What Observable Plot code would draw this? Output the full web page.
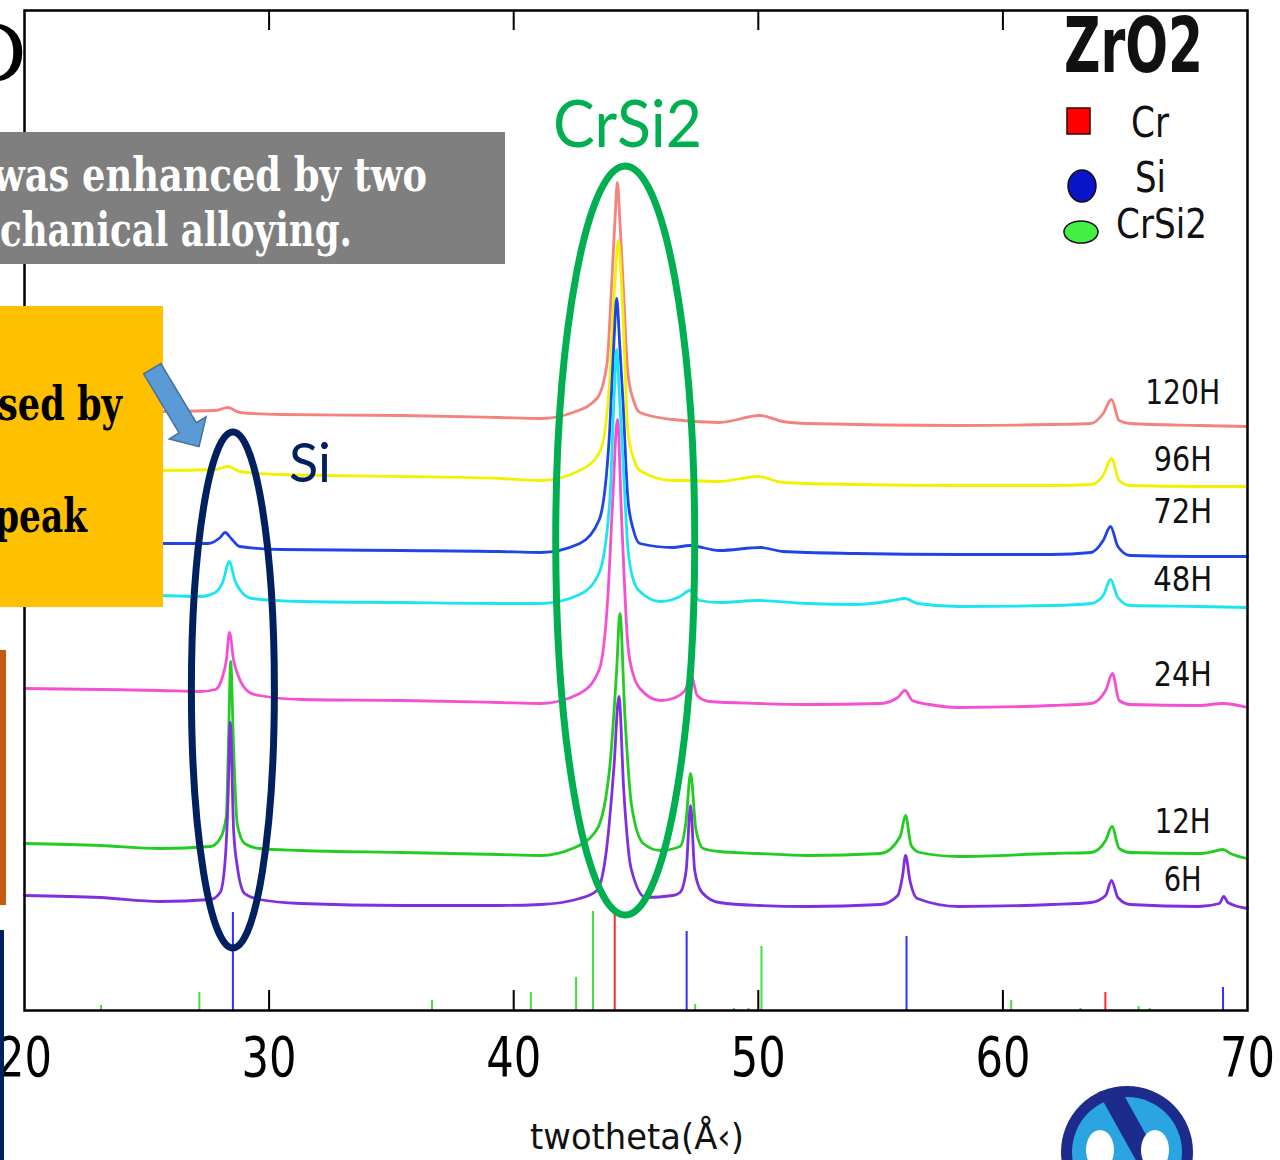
<!DOCTYPE html>
<html><head><meta charset="utf-8">
<script src="https://cdn.jsdelivr.net/npm/d3@7"></script>
<script src="https://cdn.jsdelivr.net/npm/@observablehq/plot@0.6"></script>
<style>
html,body{margin:0;padding:0;background:#fff;overflow:hidden}
#chart{position:relative;width:1280px;height:1160px}
</style>
</head><body><div id="chart"></div>
<script>
// ---------------- DATA ----------------
const seriesNames  = ["120H","96H","72H","48H","24H","12H","6H"];
const seriesColors = ["#f4837d","#f2f200","#1f45e6","#19e6f0","#f550d2","#22cc22","#7f2fe0"];

// [2theta, intensity (arb. units, offset-stacked)]
const s120H = [[20.0,599],[25.55,599],[27.8,600],[28.32,603],[28.8,598],[30.5,596],[35.4,595],[39.4,593],[41.1,592],[42.42,598],[43.4,612],[43.81,646],[44.01,729],[44.14,790],[44.24,828],[44.34,790],[44.47,729],[44.67,637],[44.9,610],[45.16,598],[46.5,591],[48.4,588],[50.07,595],[51.0,589],[52.0,587],[58.2,585],[62.0,586],[63.6,587],[64.1,597],[64.44,611],[64.75,590],[65.2,587],[68.0,585],[70.0,584]];
const s96H  = [[20.0,540],[25.55,540],[27.8,541],[28.32,544],[28.8,539],[30.5,536],[35.4,534],[39.4,532],[41.1,530],[42.7,540],[43.53,559],[43.93,632],[44.14,729],[44.28,770],[44.45,705],[44.67,579],[44.9,552],[45.16,540],[46.5,530],[47.0,530],[48.4,529],[50.0,534],[51.0,528],[54.0,526],[58.2,525],[62.0,525],[63.6,526],[64.1,535],[64.44,552],[64.75,530],[65.2,525],[68.0,524],[70.0,524]];
const s72H  = [[20.0,467],[25.55,467],[27.5,467],[28.0,473],[28.2,478],[28.45,472],[28.8,464],[30.5,461],[35.4,460],[39.4,459],[41.1,458],[42.7,467],[43.5,491],[43.93,583],[44.1,670],[44.21,712],[44.33,668],[44.47,608],[44.67,511],[44.9,480],[45.16,467],[46.5,463],[47.2,465],[48.4,460],[50.1,463],[51.0,459],[54.0,457],[58.2,456],[62.0,456],[63.6,458],[64.1,470],[64.4,484],[64.7,464],[65.2,455],[68.0,454],[70.0,454]];
const s48H  = [[20.0,416],[25.55,415],[27.2,414],[27.8,418],[28.1,428],[28.38,449],[28.6,430],[28.8,421],[29.3,412],[31.3,409],[35.4,408],[39.4,407],[41.1,407],[42.7,416],[43.5,438],[43.93,511],[44.1,610],[44.21,661],[44.32,615],[44.45,559],[44.67,462],[44.9,430],[45.16,419],[46.0,409],[46.8,414],[47.2,420],[47.6,410],[48.4,408],[50.0,410],[52.0,407],[54.0,406],[55.5,410],[56.0,412],[56.5,407],[58.2,404],[62.0,405],[63.6,407],[64.1,415],[64.4,431],[64.7,413],[65.2,405],[68.0,404],[70.0,403]];
const s24H  = [[20.0,322],[23.1,321],[25.55,320],[27.2,319],[27.8,321],[28.1,334],[28.25,350],[28.38,378],[28.55,350],[28.75,334],[29.2,318],[29.6,315],[31.3,311],[35.4,310],[39.4,308],[41.1,307],[42.7,317],[43.5,341],[43.85,414],[44.05,511],[44.24,591],[44.42,487],[44.67,365],[44.9,335],[45.16,322],[46.0,310],[46.5,312],[47.0,320],[47.26,335],[47.5,315],[48.0,309],[50.0,307],[52.0,306],[55.0,307],[55.7,313],[56.0,320],[56.3,310],[57.0,306],[58.2,303],[62.0,305],[63.6,307],[64.2,320],[64.48,337],[64.75,310],[65.2,306],[68.0,305],[69.0,307],[70.0,303]];
const s12H  = [[20.0,167],[23.1,165],[25.55,162],[27.6,164],[28.0,172],[28.25,194],[28.35,279],[28.43,349],[28.55,260],[28.7,186],[29.0,167],[29.6,162],[31.3,160],[35.4,158],[39.4,156],[41.1,155],[42.4,162],[43.4,181],[43.93,244],[44.21,341],[44.34,397],[44.55,293],[44.82,205],[45.3,167],[46.0,160],[46.8,164],[47.05,190],[47.23,237],[47.45,181],[47.75,162],[48.4,159],[50.0,157],[52.0,155],[55.0,157],[55.8,174],[56.02,195],[56.25,165],[56.6,158],[58.2,154],[62.0,157],[63.6,158],[64.2,170],[64.46,184],[64.75,162],[65.2,158],[68.0,157],[68.6,159],[69.0,161],[69.3,157],[70.0,152]];
const s6H   = [[20.0,115],[23.1,113],[25.55,109],[27.6,111],[28.0,118],[28.2,149],[28.32,210],[28.41,288],[28.55,180],[28.7,144],[29.0,117],[29.6,111],[31.3,107],[35.4,105],[39.4,105],[41.1,106],[42.7,112],[43.4,120],[43.8,162],[44.1,244],[44.3,314],[44.5,220],[44.8,142],[45.4,113],[46.5,115],[46.8,118],[47.05,140],[47.23,205],[47.4,140],[47.7,118],[48.4,108],[50.0,105],[52.0,104],[55.0,106],[55.7,115],[55.9,135],[56.02,155],[56.2,130],[56.5,112],[58.2,104],[62.0,106],[63.6,108],[64.2,115],[64.44,130],[64.7,113],[65.2,106],[68.0,104],[68.85,107],[69.03,114],[69.2,108],[70.0,102]];
const seriesValues = [s120H, s96H, s72H, s48H, s24H, s12H, s6H];

// reference (stick) patterns
const phaseNames  = ["Cr","Si","CrSi2"];
const phaseColors = ["#ff2a2a","#2f2fff","#3fe03f"];
const crSi2Positions = [23.13,27.15,36.66,40.70,42.55,43.24,47.42,49.00,49.60,50.13,60.34,63.17,65.55,66.00];
const crSi2Heights   = [5,18,10,18,33,99,6,2,2,64,10,2,4,2];
const siPositions    = [28.52,47.07,56.06,69.00];
const siHeights      = [98,79,74,23];
const crPositions    = [44.13,64.19];
const crHeights      = [100,18];

const tickValues = [20,30,40,50,60,70];
const innerTicks = [30,40,50,60];
const xLabel = "twotheta(Å‹)";

// ---------------- LAYOUT ----------------
const labelLevel = {"120H":617,"96H":550,"72H":498,"48H":430,"24H":335,"12H":188,"6H":130};
const labelWidth = {"120H":75,"96H":58,"72H":59,"48H":59,"24H":58,"12H":56,"6H":38};

const rows = seriesNames.flatMap((name, i) =>
  seriesValues[i].map(([t, v]) => ({series: name, theta: t, intensity: v})));
const sticks = (pos, h) => pos.map((p, i) => ({theta: p, height: h[i]}));

const plot = Plot.plot({
  width: 1280, height: 1160,
  marginLeft: 24, marginRight: 33, marginTop: 10, marginBottom: 150,
  style: {fontFamily: "DejaVu Sans", background: "white"},
  x: {domain: [20, 70], axis: null},
  y: {domain: [0, 1000], axis: null},
  color: {type: "ordinal", domain: seriesNames, range: seriesColors},
  marks: [
    Plot.ruleX(sticks(crSi2Positions, crSi2Heights), {x: "theta", y: "height", stroke: phaseColors[2], strokeWidth: 2}),
    Plot.ruleX(sticks(siPositions, siHeights), {x: "theta", y: "height", stroke: phaseColors[1], strokeWidth: 2}),
    Plot.ruleX(sticks(crPositions, crHeights), {x: "theta", y: "height", stroke: phaseColors[0], strokeWidth: 2}),
    Plot.line(rows, {x: "theta", y: "intensity", z: "series", stroke: "series", strokeWidth: 2.8, strokeLinejoin: "round", curve: "monotone-x"}),
    Plot.tickX(innerTicks, {x: d => d, insetTop: 980, stroke: "black", strokeWidth: 2}),
    Plot.tickX(innerTicks, {x: d => d, insetBottom: 980, stroke: "black", strokeWidth: 2}),
    Plot.frame({stroke: "black", strokeWidth: 2.5}),
    Plot.text(tickValues, {x: d => d, text: d => String(d), frameAnchor: "bottom", lineAnchor: "middle", dy: 48, fontSize: 55, fill: "black"}),
    Plot.text(seriesNames, {x: () => 67.35, y: d => labelLevel[d], text: d => d, fontSize: 34, fill: "#111"})
  ]
});
document.getElementById("chart").appendChild(plot);

// fit Plot text widths (condensed look of the original)
plot.querySelectorAll("g[aria-label='text'] text").forEach(t => {
  const s = t.textContent;
  const w = labelWidth[s] ?? (tickValues.map(String).includes(s) ? 55 : null);
  if (w) { t.setAttribute("textLength", w); t.setAttribute("lengthAdjust", "spacingAndGlyphs"); }
});

// ---------------- OVERLAYS / ANNOTATIONS ----------------
const sxS = plot.scale("x"), syS = plot.scale("y");
const sx = v => sxS.apply(v), sy = v => syS.apply(v);
const svg = d3.select(plot);
const ov = svg.append("g");
function txt(g, s, x, y, opts) {
  const t = g.append("text").attr("x", x).attr("y", y).text(s)
    .attr("font-family", opts.family || "DejaVu Sans")
    .attr("font-size", opts.size)
    .attr("font-weight", opts.weight || "normal")
    .attr("fill", opts.fill || "black")
    .attr("text-anchor", opts.anchor || "start");
  if (opts.width) t.attr("textLength", opts.width).attr("lengthAdjust", "spacingAndGlyphs");
  return t;
}

// x-axis title
txt(ov, xLabel, 637, 1149, {size: 36, anchor: "middle", width: 214, fill: "#111"});

// legend
txt(ov, "ZrO2", 1064, 72, {size: 76, weight: "bold", width: 139, fill: "#111"});
ov.append("rect").attr("x", 1067).attr("y", 108).attr("width", 23).attr("height", 26)
  .attr("fill", "#ff0000").attr("stroke", "#3a0000").attr("stroke-width", 1.5);
txt(ov, "Cr", 1131, 137, {size: 42, width: 38, fill: "#111"});
ov.append("ellipse").attr("cx", 1082).attr("cy", 186).attr("rx", 14).attr("ry", 16)
  .attr("fill", "#0a14c8").attr("stroke", "#111").attr("stroke-width", 1.5);
txt(ov, "Si", 1135, 192, {size: 42, width: 31, fill: "#111"});
ov.append("ellipse").attr("cx", 1081).attr("cy", 232).attr("rx", 17).attr("ry", 11)
  .attr("fill", "#44f044").attr("stroke", "#111").attr("stroke-width", 1.5);
txt(ov, "CrSi2", 1116, 238, {size: 40, width: 91, fill: "#111"});

// highlight ellipses
ov.append("ellipse").attr("cx", sx(28.54)).attr("cy", sy(320)).attr("rx", 41.5).attr("ry", 258)
  .attr("fill", "none").attr("stroke", "#002060").attr("stroke-width", 7);
txt(ov, "Si", 289, 482, {family: "Lato", size: 55, fill: "#002060", width: 42});
ov.append("ellipse").attr("cx", sx(44.58)).attr("cy", sy(469.5)).attr("rx", 69.5).attr("ry", 374.5)
  .attr("fill", "none").attr("stroke", "#00b050").attr("stroke-width", 7);
txt(ov, "CrSi2", 553, 147, {family: "Lato", size: 65, fill: "#00b050", width: 149});

// slide boxes
ov.append("rect").attr("x", 0).attr("y", 132).attr("width", 505).attr("height", 132).attr("fill", "#7f7f7f");
txt(ov, "was enhanced by two", -7, 191, {family: "DejaVu Serif", size: 46, weight: "bold", fill: "white", width: 434});
txt(ov, "chanical alloying.", 0, 246, {family: "DejaVu Serif", size: 46, weight: "bold", fill: "white", width: 352});

ov.append("rect").attr("x", 0).attr("y", 306).attr("width", 163).attr("height", 301).attr("fill", "#ffc000");
txt(ov, "sed by", -2, 420, {family: "DejaVu Serif", size: 47, weight: "bold", fill: "black", width: 124});
txt(ov, "peak", -5, 532, {family: "DejaVu Serif", size: 47, weight: "bold", fill: "black", width: 92});

// arrow
ov.append("polygon")
  .attr("points", "143.6,373.8 160.8,363.6 196.3,422.7 206.1,416.8 199,446.7 169.3,438.9 179.1,432.9")
  .attr("fill", "#5b9bd5").attr("stroke", "#41719c").attr("stroke-width", 1.5);

// left slide strips
ov.append("rect").attr("x", 0).attr("y", 650).attr("width", 6).attr("height", 255).attr("fill", "#c55a11");
ov.append("rect").attr("x", 0).attr("y", 930).attr("width", 4).attr("height", 230).attr("fill", "#002060");

// title fragment
txt(ov, "D", 27, 82, {family: "DejaVu Serif", size: 80, anchor: "end"});

// logo
const lg = ov.append("g");
lg.append("circle").attr("cx", 1127).attr("cy", 1152).attr("r", 66).attr("fill", "#1d2c8c");
lg.append("circle").attr("cx", 1127).attr("cy", 1152).attr("r", 55).attr("fill", "#2aa5e2");
lg.append("polygon").attr("points", "1098,1092 1120,1088 1160,1160 1138,1164").attr("fill", "#1d2c8c");
lg.append("ellipse").attr("cx", 1100).attr("cy", 1150).attr("rx", 14).attr("ry", 20).attr("fill", "white");
lg.append("ellipse").attr("cx", 1155).attr("cy", 1150).attr("rx", 14).attr("ry", 20).attr("fill", "white");
</script>
</body></html>
